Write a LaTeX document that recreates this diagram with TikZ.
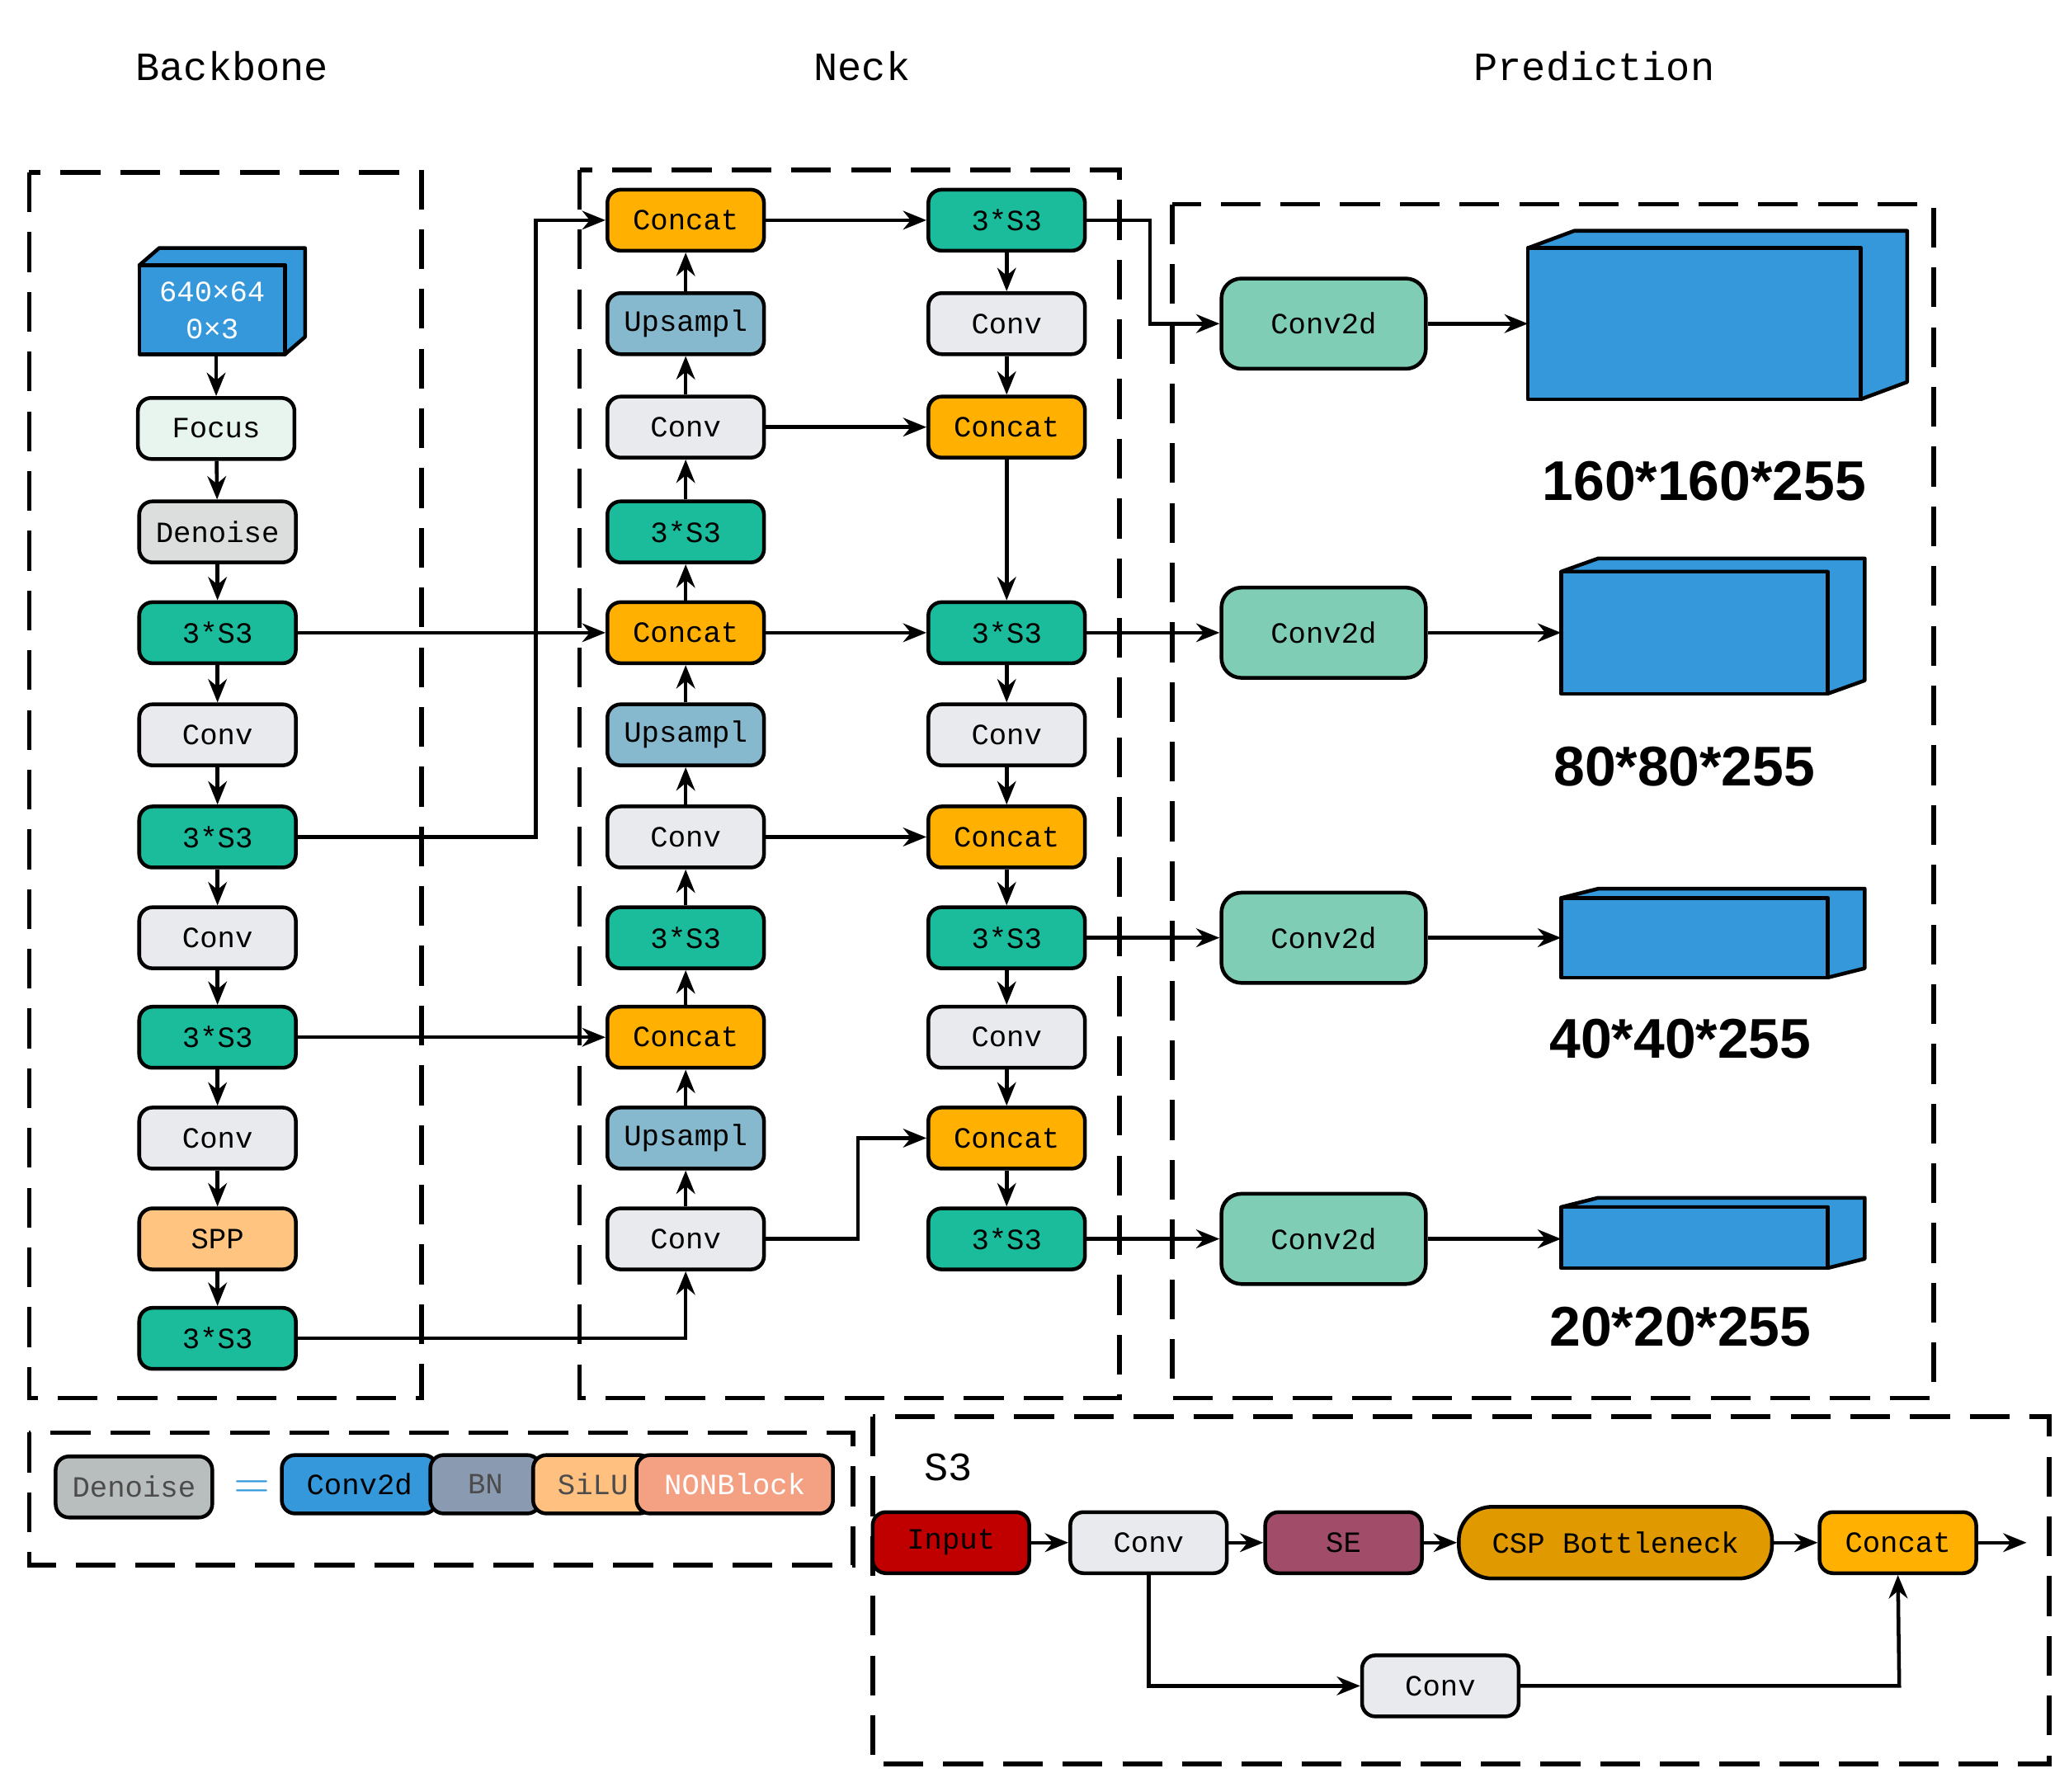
\documentclass[tikz,border=0pt]{standalone}
\usepackage{fontspec}
\setmonofont{Liberation Mono}
\newfontfamily\bsans{Liberation Sans}
\usetikzlibrary{arrows.meta}
\definecolor{cS}{HTML}{1ABC9C}\definecolor{cCat}{HTML}{FFB000}\definecolor{cConv}{HTML}{E8EAEE}
\definecolor{cUp}{HTML}{86B9CE}\definecolor{cFoc}{HTML}{E8F4EE}\definecolor{cDen}{HTML}{DCDEDE}
\definecolor{cSPP}{HTML}{FFC580}\definecolor{cC2}{HTML}{7ECDB4}\definecolor{cBlue}{HTML}{3498DB}
\definecolor{cIn}{HTML}{C00000}\definecolor{cSE}{HTML}{A14D6A}\definecolor{cCSP}{HTML}{E09A00}
\definecolor{cLD}{HTML}{B8BDBD}\definecolor{cBN}{HTML}{8A9AB0}\definecolor{cSi}{HTML}{FFC080}\definecolor{cNB}{HTML}{F4A083}
\tikzset{
 b/.style={draw,line width=0.8pt,rounded corners=0.1cm,minimum width=1.18cm,minimum height=0.46cm,inner sep=0pt,font=\ttfamily\fontsize{6.3}{7}\selectfont},
 c2/.style={b,fill=cC2,minimum width=1.54cm,minimum height=0.68cm,rounded corners=0.15cm},
 a/.style={line width=0.8pt,-{Stealth[length=5pt,width=4pt]}},
 dbox/.style={line width=1pt,dash pattern=on 0.3cm off 0.15cm},
 tt/.style={font=\ttfamily\fontsize{8.6}{10}\selectfont},
 big/.style={font=\bsans\bfseries\fontsize{12}{14}\selectfont},
 cube/.style={draw,line width=0.8pt,fill=cBlue,line join=round}
}
\begin{document}
\begin{tikzpicture}[x=0.01cm,y=-0.01cm]
\useasboundingbox (0,0) rectangle (1560,1351);
% dashed boxes
\draw[dbox] (22,130) rectangle (318,1054);
\draw[dbox] (437,128) rectangle (844,1054);
\draw[dbox] (884,154) rectangle (1458,1054);
\draw[dbox] (22,1080) rectangle (643,1180);
\draw[dbox] (658,1068) rectangle (1545,1330);
\node[tt] (t1) at (175,50) {Backbone};
\node[tt] (t2) at (650,50) {Neck};
\node[tt] (t3) at (1202,50) {Prediction};
% input cube
\draw[cube] (105,200) -- (120,187) -- (230,187) -- (230,254) -- (215,267) -- (215,200) -- cycle;
\draw[cube] (105,200) rectangle (215,267);
\node[font=\ttfamily\fontsize{6.3}{8}\selectfont,text=white,align=center] (in) at (160,234) {640×64\\0×3};
\coordinate (inb) at (163,267);
% backbone
\node[b,fill=cFoc] (f) at (163,323) {Focus};
\node[b,fill=cDen] (d) at (164,401) {Denoise};
\node[b,fill=cS] (b1) at (164,477) {3*S3};
\node[b,fill=cConv] (b2) at (164,554) {Conv};
\node[b,fill=cS] (b3) at (164,631) {3*S3};
\node[b,fill=cConv] (b4) at (164,707) {Conv};
\node[b,fill=cS] (b5) at (164,782) {3*S3};
\node[b,fill=cConv] (b6) at (164,858) {Conv};
\node[b,fill=cSPP] (b7) at (164,934) {SPP};
\node[b,fill=cS] (b8) at (164,1009) {3*S3};
\draw[a] (inb) -- (f);
\draw[a] (f) -- (d); \draw[a] (d) -- (b1); \draw[a] (b1) -- (b2); \draw[a] (b2) -- (b3);
\draw[a] (b3) -- (b4); \draw[a] (b4) -- (b5); \draw[a] (b5) -- (b6); \draw[a] (b6) -- (b7); \draw[a] (b7) -- (b8);
% neck col1
\node[b,fill=cCat] (n1) at (517,166) {Concat};
\node[b,fill=cUp] (n2) at (517,244) {Upsampl};
\node[b,fill=cConv] (n3) at (517,322) {Conv};
\node[b,fill=cS] (n4) at (517,401) {3*S3};
\node[b,fill=cCat] (n5) at (517,477) {Concat};
\node[b,fill=cUp] (n6) at (517,554) {Upsampl};
\node[b,fill=cConv] (n7) at (517,631) {Conv};
\node[b,fill=cS] (n8) at (517,707) {3*S3};
\node[b,fill=cCat] (n9) at (517,782) {Concat};
\node[b,fill=cUp] (n10) at (517,858) {Upsampl};
\node[b,fill=cConv] (n11) at (517,934) {Conv};
\foreach \p/\q in {n11/n10,n10/n9,n9/n8,n8/n7,n7/n6,n6/n5,n5/n4,n4/n3,n3/n2,n2/n1} \draw[a] (\p) -- (\q);
% neck col2
\node[b,fill=cS] (m1) at (759,166) {3*S3};
\node[b,fill=cConv] (m2) at (759,244) {Conv};
\node[b,fill=cCat] (m3) at (759,322) {Concat};
\node[b,fill=cS] (m4) at (759,477) {3*S3};
\node[b,fill=cConv] (m5) at (759,554) {Conv};
\node[b,fill=cCat] (m6) at (759,631) {Concat};
\node[b,fill=cS] (m7) at (759,707) {3*S3};
\node[b,fill=cConv] (m8) at (759,782) {Conv};
\node[b,fill=cCat] (m9) at (759,858) {Concat};
\node[b,fill=cS] (m10) at (759,934) {3*S3};
\foreach \p/\q in {m1/m2,m2/m3,m3/m4,m4/m5,m5/m6,m6/m7,m7/m8,m8/m9,m9/m10} \draw[a] (\p) -- (\q);
% backbone -> neck
\draw[a] (b1) -- (n5);
\draw[a] (b3.east) -- (404,631) -- (404,166) -- (n1.west);
\draw[a] (b5) -- (n9);
\draw[a] (b8.east) -- (517,1009) -- (n11.south);
% col1 -> col2
\draw[a] (n1) -- (m1); \draw[a] (n3) -- (m3); \draw[a] (n5) -- (m4); \draw[a] (n7) -- (m6);
\draw[a] (n11.east) -- (647,934) -- (647,858) -- (m9.west);
% prediction
\node[c2] (p1) at (998,244) {Conv2d};
\node[c2] (p2) at (998,477) {Conv2d};
\node[c2] (p3) at (998,707) {Conv2d};
\node[c2] (p4) at (998,934) {Conv2d};
\draw[a] (m1.east) -- (867,166) -- (867,244) -- (p1.west);
\draw[a] (m4) -- (p2); \draw[a] (m7) -- (p3); \draw[a] (m10) -- (p4);
% blue boxes
\draw[cube] (1152,187) -- (1187,174) -- (1438,174) -- (1438,288) -- (1403,301) -- (1403,187) -- cycle;
\draw[cube] (1152,187) rectangle (1403,301);
\draw[cube] (1177,431) -- (1205,421) -- (1406,421) -- (1406,513) -- (1378,523) -- (1378,431) -- cycle;
\draw[cube] (1177,431) rectangle (1378,523);
\draw[cube] (1177,677) -- (1205,670) -- (1406,670) -- (1406,730) -- (1378,737) -- (1378,677) -- cycle;
\draw[cube] (1177,677) rectangle (1378,737);
\draw[cube] (1177,910) -- (1205,903) -- (1406,903) -- (1406,949) -- (1378,956) -- (1378,910) -- cycle;
\draw[cube] (1177,910) rectangle (1378,956);
\coordinate (q1) at (1152,244); \coordinate (q2) at (1177,477); \coordinate (q3) at (1177,707); \coordinate (q4) at (1177,934);
\draw[a] (p1) -- (q1); \draw[a] (p2) -- (q2); \draw[a] (p3) -- (q3); \draw[a] (p4) -- (q4);
\node[big] (l1) at (1285,363) {160*160*255};
\node[big] (l2) at (1270,578) {80*80*255};
\node[big] (l3) at (1267,783) {40*40*255};
\node[big] (l4) at (1267,1000) {20*20*255};
% legend
\node[b,fill=cLD,text=black!70] (ld) at (101,1121) {Denoise};
\node[font=\fontsize{10}{10}\selectfont,text=cBlue] (eq) at (190,1123) {=};
\node[b,fill=cBlue,minimum width=1.17cm,minimum height=0.44cm] (lc) at (271,1119) {Conv2d};
\node[b,fill=cBN,minimum width=0.83cm,minimum height=0.44cm,text=black!70] (lb) at (366,1119) {BN};
\node[b,fill=cSi,minimum width=0.9cm,minimum height=0.44cm,text=black!70] (ls) at (447,1119) {SiLU};
\node[b,fill=cNB,minimum width=1.48cm,minimum height=0.44cm,text=white] (ln) at (554,1119) {NONBlock};
% S3
\node[tt] (s3) at (715,1106) {S3};
\node[b,fill=cIn] (si) at (717,1163) {Input};
\node[b,fill=cConv] (sc) at (866,1163) {Conv};
\node[b,fill=cSE] (se) at (1013,1163) {SE};
\node[b,fill=cCSP,minimum width=2.36cm,minimum height=0.54cm,rounded corners=0.25cm] (csp) at (1218,1163) {CSP Bottleneck};
\node[b,fill=cCat] (sk) at (1431,1163) {Concat};
\node[b,fill=cConv] (sb) at (1086,1271) {Conv};
\coordinate (out) at (1528,1163);
\draw[a] (si) -- (sc); \draw[a] (sc) -- (se); \draw[a] (se) -- (csp); \draw[a] (csp) -- (sk); \draw[a] (sk) -- (out);
\draw[a] (sc.south) -- (866,1271) -- (sb.west);
\draw[a] (sb.east) -- (1432,1271) -- (sk.south);
\end{tikzpicture}
\end{document}
